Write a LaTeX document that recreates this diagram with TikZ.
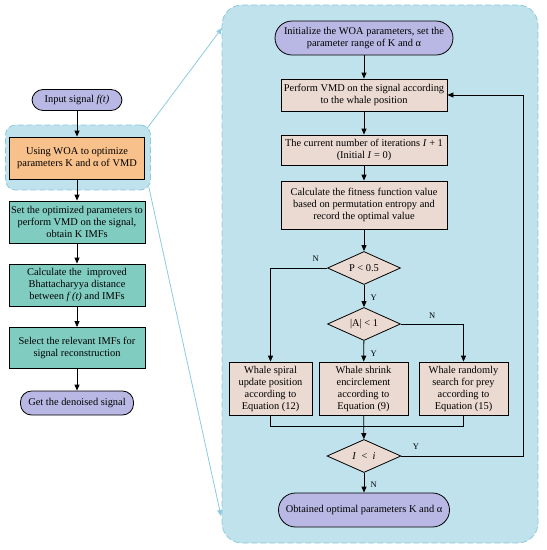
\documentclass[tikz,border=0pt]{standalone}
\usepackage{fontspec}
\setmainfont{Liberation Serif}
\usetikzlibrary{shapes.geometric,arrows.meta}

\definecolor{panelBlue}{RGB}{191,226,236}
\definecolor{panelEdge}{RGB}{140,202,222}
\definecolor{orangeBox}{RGB}{248,192,138}
\definecolor{tealBox}{RGB}{128,204,193}
\definecolor{purpleBox}{RGB}{185,184,228}
\definecolor{beigeBox}{RGB}{235,218,210}

\tikzset{
	every node/.style={font=\fontsize{10.4}{12}\selectfont},
	stepbox/.style={rectangle, draw, thick, align=center, inner sep=1pt},
	roundbox/.style={rectangle, rounded corners=11pt, draw, thick, fill=purpleBox, align=center, inner sep=1pt},
	decision/.style={diamond, draw, thick, fill=beigeBox, aspect=2.2, inner sep=1pt, minimum width=73pt, minimum height=33pt},
	frame/.style={rectangle, draw=panelEdge, thick, dash pattern=on 6pt off 3pt, fill=panelBlue},
	flow/.style={thick, -{Triangle[length=6pt,width=5pt]}},
	zoomline/.style={panelEdge, thick, -{Triangle[length=6pt,width=5pt]}},
	tag/.style={font=\fontsize{8.5}{9}\selectfont}
}

\begin{document}
\begin{tikzpicture}[x=1pt,y=-1pt]
		
		\useasboundingbox (0,0) rectangle (547,550);
		
		% Frames
		
		\node[frame, rounded corners=20pt, minimum width=316pt, minimum height=538pt] 
		(rightPanel) at (380,274) {};
		
		\node[frame, rounded corners=10pt, minimum width=145pt, minimum height=65pt] 
		(optGroup) at (78,157.5) {};
		
		% Left column
		
		\node[roundbox, minimum width=90pt, minimum height=21pt] 
		(inputNode) at (77,100) {Input signal \textit{f(t)}};
		
		\node[stepbox, fill=orangeBox, minimum width=135pt, minimum height=42pt] 
		(woaNode) at (77,158) {Using WOA to optimize\\parameters K and α of VMD};
		
		\node[stepbox, fill=tealBox, minimum width=136pt, minimum height=42pt] 
		(setNode) at (77,222) {Set the optimized parameters to\\perform VMD on the signal,\\obtain K IMFs};
		
		\node[stepbox, fill=tealBox, minimum width=136pt, minimum height=42pt] 
		(distNode) at (77,285) {Calculate the\ \ improved\\Bhattacharyya distance\\between \textit{f (t)} and IMFs};
		
		\node[stepbox, fill=tealBox, minimum width=136pt, minimum height=41pt] 
		(selectNode) at (77,348) {Select the relevant IMFs for\\signal reconstruction};
		
		\node[roundbox, minimum width=113pt, minimum height=24pt] 
		(denoiseNode) at (77,403) {Get the denoised signal};
		
		\draw[flow] (inputNode) -- (woaNode);
		
		\draw[flow] (woaNode) -- (setNode);
		
		\draw[flow] (setNode) -- (distNode);
		
		\draw[flow] (distNode) -- (selectNode);
		
		\draw[flow] (selectNode) -- (denoiseNode);
		
		% Zoom lines
		
		\coordinate (panelTop) at (222,28);
		\coordinate (panelBottom) at (221,516);
		
		\draw[zoomline] ([xshift=-4pt,yshift=-4pt]optGroup.north east) -- (panelTop);
		
		\draw[zoomline] ([xshift=-2pt,yshift=3pt]optGroup.south east) -- (panelBottom);
		
		% Right column
		
		\node[roundbox, minimum width=178pt, minimum height=34pt, rounded corners=17pt] 
		(initNode) at (364,38) {Initialize the WOA parameters, set the\\parameter range of K and α};
		
		\node[stepbox, fill=beigeBox, minimum width=166pt, minimum height=32pt] 
		(vmdNode) at (364,95) {Perform VMD on the signal according\\to the whale position};
		
		\node[stepbox, fill=beigeBox, minimum width=166pt, minimum height=30pt] 
		(iterNode) at (364,150) {The current number of iterations \textit{I} + 1\\(Initial \textit{I} = 0)};
		
		\node[stepbox, fill=beigeBox, minimum width=166pt, minimum height=48pt] 
		(fitNode) at (364,205) {Calculate the fitness function value\\based on permutation entropy and\\record the optimal value};
		
		\node[decision] 
		(pDecision) at (364,268) {P < 0.5};
		
		\node[decision] 
		(aDecision) at (364,324) {|A| < 1};
		
		\node[stepbox, fill=beigeBox, minimum width=83pt, minimum height=53pt] 
		(spiralNode) at (270.5,388.5) {Whale spiral\\update position\\according to\\Equation (12)};
		
		\node[stepbox, fill=beigeBox, minimum width=89pt, minimum height=53pt] 
		(shrinkNode) at (363.5,388.5) {Whale shrink\\encirclement\\according to\\Equation (9)};
		
		\node[stepbox, fill=beigeBox, minimum width=89pt, minimum height=53pt] 
		(searchNode) at (463.5,388.5) {Whale randomly\\search for prey\\according to\\Equation (15)};
		
		\node[decision, minimum width=74pt] 
		(iDecision) at (364,456) {\textit{I}\ \ <\ \ \textit{i}};
		
		\node[roundbox, minimum width=171pt, minimum height=34pt, rounded corners=17pt] 
		(resultNode) at (364,510) {Obtained optimal parameters K and α};
		
		\draw[flow] (initNode) -- (vmdNode);
		
		\draw[flow] (vmdNode) -- (iterNode);
		
		\draw[flow] (iterNode) -- (fitNode);
		
		\draw[flow] (fitNode) -- (pDecision);
		
		\draw[flow] (pDecision) -- node[tag, right, xshift=3pt, yshift=-2pt]{Y} (aDecision);
		
		\draw[flow] (pDecision.west) -| node[tag, pos=0.1, above, yshift=3pt]{N} (spiralNode.north);
		
		\draw[flow] (aDecision) -- node[tag, right, xshift=3pt, yshift=-2pt]{Y} (shrinkNode);
		
		\draw[flow] (aDecision.east) -| node[tag, pos=0.25, above, yshift=2pt]{N} (searchNode.north);
		
		% Merge and loop
		
		\coordinate (mergeLeft) at (spiralNode.south |- 0,426);
		\coordinate (mergeRight) at (searchNode.south |- 0,426);
		\coordinate (loopCorner) at (523,456);
		
		\draw[thick] (spiralNode.south) -- (mergeLeft) -- (mergeRight) -- (searchNode.south);
		
		\draw[flow] (shrinkNode) -- (iDecision);
		
		\draw[flow] (iDecision.east) -- node[tag, above, pos=0.12, yshift=3pt]{Y} (loopCorner) |- (vmdNode.east);
		
		\draw[flow] (iDecision) -- node[tag, right, xshift=3pt, yshift=-2pt]{N} (resultNode);
		
	\end{tikzpicture}
\end{document}
